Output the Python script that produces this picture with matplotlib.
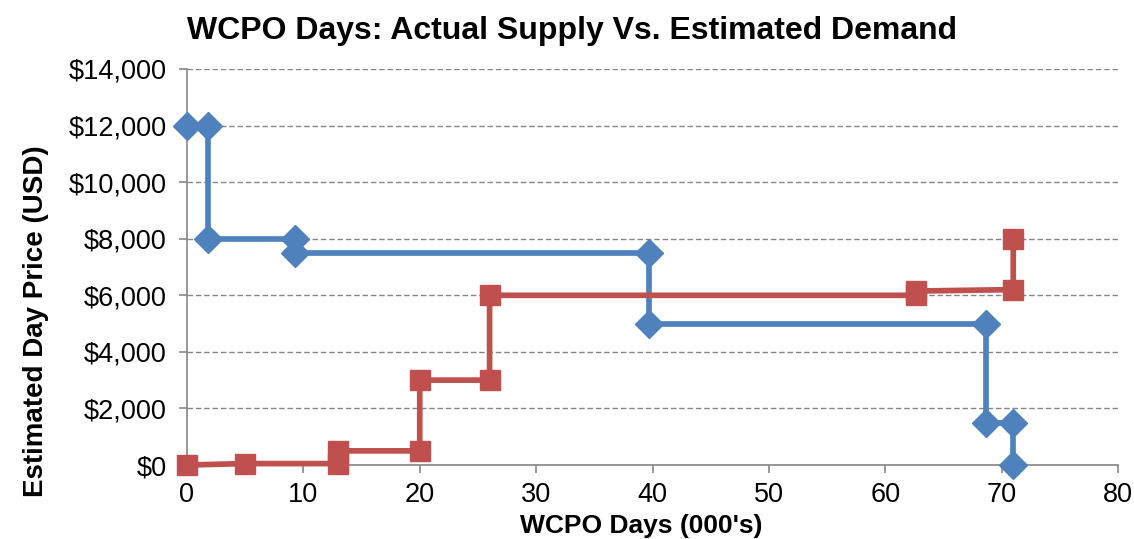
import matplotlib
matplotlib.use("Agg")
import matplotlib.pyplot as plt
from matplotlib.ticker import FuncFormatter

plt.rcParams['font.family'] = ['Liberation Sans', 'DejaVu Sans']

demand_x = [0, 1.8, 1.8, 9.3, 9.3, 39.7, 39.7, 68.7, 68.7, 71.0, 71.0]
demand_y = [12000, 12000, 8000, 8000, 7500, 7500, 5000, 5000, 1500, 1500, 0]

supply_x = [0, 5.0, 13.0, 13.0, 20.0, 20.0, 26.0, 26.0, 62.6, 62.6, 71.0, 71.0]
supply_y = [0, 50, 50, 500, 500, 3000, 3000, 6000, 6000, 6150, 6200, 8000]

xticks = [0, 10, 20, 30, 40, 50, 60, 70, 80]
yticks = [0, 2000, 4000, 6000, 8000, 10000, 12000, 14000]

W, H = 1134, 539
fig = plt.figure(figsize=(W / 100, H / 100), dpi=100)
ax = fig.add_axes([187 / W, 1 - 465 / H, (1118 - 187) / W, (465 - 69) / H])

ax.plot(demand_x, demand_y, color='#4F81BD', lw=4.1, marker='D', ms=14.5,
        mec='#4F81BD', zorder=3, clip_on=False)
ax.plot(supply_x, supply_y, color='#C0504D', lw=4.1, marker='s', ms=15,
        mec='#C0504D', zorder=3, clip_on=False)

ax.set_xlim(0, 80)
ax.set_ylim(0, 14000)
ax.set_xticks(xticks)
ax.set_yticks(yticks)
ax.yaxis.set_major_formatter(FuncFormatter(lambda v, p: f"${int(v):,}"))

ax.grid(axis='y', color='#868686', ls=(0, (4, 2)), lw=1.0)
ax.set_axisbelow(True)
for s in ['top', 'right']:
    ax.spines[s].set_visible(False)
for s in ['left', 'bottom']:
    ax.spines[s].set_color('#868686')
    ax.spines[s].set_linewidth(1.2)
ax.tick_params(axis='both', colors='#868686', length=5.5, width=1.2, labelsize=19.5,
               labelcolor='black')
ax.tick_params(axis='x', pad=7)
ax.tick_params(axis='y', pad=9)

fig.text(572 / W, 1 - 31 / H, "WCPO Days: Actual Supply Vs. Estimated Demand",
         fontsize=23, fontweight='bold', ha='center', va='center')
fig.text(641 / W, 1 - 526 / H, "WCPO Days (000's)", fontsize=19,
         fontweight='bold', ha='center', va='center')
fig.text(36 / W, 1 - 321 / H, "Estimated Day Price (USD)", fontsize=20,
         fontweight='bold', ha='center', va='center', rotation=90)

fig.savefig("out.png", dpi=100)
